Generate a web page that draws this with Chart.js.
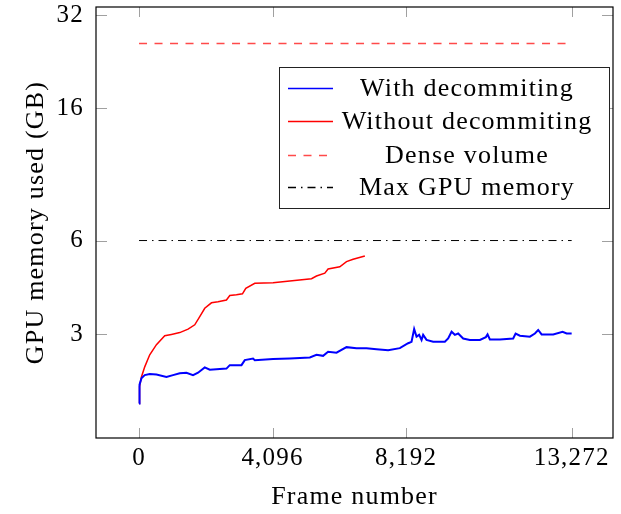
<!DOCTYPE html>
<html>
<head>
<meta charset="utf-8">
<script src="https://cdn.jsdelivr.net/npm/chart.js@4"></script>
<style>
  html, body { margin: 0; padding: 0; background: #fff; }
  canvas { display: block; }
</style>
</head>
<body>
<canvas id="myChart" width="621" height="514"></canvas>
<script>
// values (frame number, GB)
var blueFrames = [0, 10, 21, 74, 175, 328, 534, 841, 1043, 1249, 1455, 1657, 1811, 2016, 2170, 2375, 2682, 2784, 3143, 3244, 3499, 3551, 4112, 4625, 5239, 5444, 5647, 5800, 6058, 6365, 6672, 6979, 7286, 7642, 8001, 8256, 8360, 8440, 8513, 8593, 8667, 8716, 8820, 9023, 9382, 9483, 9588, 9689, 9790, 9944, 10149, 10456, 10640, 10692, 10763, 11070, 11478, 11552, 11684, 11991, 12144, 12245, 12350, 12706, 12994, 13117, 13272];
var blueGB = [1.79, 2.0, 2.06, 2.16, 2.21, 2.23, 2.22, 2.18, 2.21, 2.24, 2.25, 2.21, 2.25, 2.34, 2.30, 2.31, 2.32, 2.38, 2.38, 2.47, 2.50, 2.47, 2.49, 2.50, 2.52, 2.57, 2.55, 2.63, 2.61, 2.72, 2.70, 2.70, 2.68, 2.66, 2.70, 2.80, 2.83, 3.11, 2.94, 2.98, 2.87, 2.98, 2.87, 2.83, 2.83, 2.90, 3.05, 2.98, 3.01, 2.90, 2.87, 2.87, 2.93, 2.99, 2.88, 2.88, 2.90, 3.01, 2.96, 2.94, 3.01, 3.09, 2.99, 2.99, 3.05, 3.01, 3.01];

var redFrames = [0, 10, 21, 74, 175, 328, 534, 789, 994, 1249, 1504, 1709, 1863, 2016, 2222, 2424, 2682, 2784, 2989, 3173, 3275, 3551, 4112, 4625, 5291, 5444, 5699, 5800, 6159, 6365, 6568, 6927];
var redGB = [1.79, 2.0, 2.03, 2.18, 2.35, 2.57, 2.77, 2.96, 2.99, 3.03, 3.11, 3.21, 3.41, 3.63, 3.78, 3.81, 3.86, 3.99, 4.01, 4.04, 4.21, 4.37, 4.39, 4.44, 4.52, 4.61, 4.71, 4.86, 4.94, 5.13, 5.22, 5.35];

var denseVolumeGB = 25.9;
var maxGpuGB = 6;
var lineFrames = [0, 13272];

var seriesNames = ['With decommiting', 'Without decommiting', 'Dense volume', 'Max GPU memory'];
var seriesColors = ['#0000ff', '#ff0000', '#ff4a4a', '#000000'];
var seriesDashes = [[], [], [8, 7.5], [8, 5, 1.5, 5]];
var xTicks = [0, 4096, 8192, 13272];
var yTicks = [3, 6, 16, 32];

var serif = '"Liberation Serif", "Times New Roman", serif';

function toPoints(xs, ys) {
    return xs.map(function (x, i) { return {x: x, y: ys[i]}; });
}
function flatLine(v) {
    return lineFrames.map(function (x) { return {x: x, y: v}; });
}

// computer modern is wider than Times, spread the letters a bit
var spacing = {
    id: 'spacing',
    beforeDraw: function (chart) { chart.ctx.letterSpacing = '1.2px'; }
};

// frame box, inside ticks and the legend box, pgfplots style
var frameAndLegend = {
    id: 'frameAndLegend',
    afterDatasetsDraw: function (chart) {
        var ctx = chart.ctx;
        var a = chart.chartArea;
        var xs = chart.scales.x, ys = chart.scales.y;
        ctx.save();
        // ticks
        ctx.setLineDash([]);
        ctx.strokeStyle = '#a0a0a0';
        ctx.lineWidth = 1;
        ctx.beginPath();
        xTicks.forEach(function (t) {
            var px = Math.round(xs.getPixelForValue(t)) + 0.5;
            ctx.moveTo(px, a.bottom); ctx.lineTo(px, a.bottom - 10);
            ctx.moveTo(px, a.top); ctx.lineTo(px, a.top + 10);
        });
        yTicks.forEach(function (t) {
            var py = Math.round(ys.getPixelForValue(t)) + 0.5;
            ctx.moveTo(a.left, py); ctx.lineTo(a.left + 11, py);
            ctx.moveTo(a.right, py); ctx.lineTo(a.right - 11, py);
        });
        ctx.stroke();
        // frame
        ctx.strokeStyle = '#000';
        ctx.lineWidth = 1.2;
        ctx.strokeRect(a.left, a.top, a.right - a.left, a.bottom - a.top);

        // legend
        var bx = 279, by = 67, bw = 330, bh = 141;
        ctx.fillStyle = '#fff';
        ctx.fillRect(bx, by, bw, bh);
        ctx.strokeStyle = '#222';
        ctx.lineWidth = 1;
        ctx.strokeRect(bx + 0.5, by + 0.5, bw, bh);
        var rowY = [88, 121, 155, 187];
        ctx.font = '26px ' + serif;
        ctx.textAlign = 'center';
        ctx.textBaseline = 'middle';
        for (var i = 0; i < seriesNames.length; i++) {
            var y = rowY[i] + 0.5;
            ctx.strokeStyle = seriesColors[i];
            ctx.lineWidth = 1.3;
            ctx.setLineDash(seriesDashes[i]);
            ctx.beginPath();
            ctx.moveTo(288, y); ctx.lineTo(333, y);
            ctx.stroke();
            ctx.setLineDash([]);
            ctx.fillStyle = '#000';
            ctx.fillText(seriesNames[i], 467, rowY[i] + 1);
        }
        ctx.restore();
    }
};

new Chart(document.getElementById('myChart'), {
    type: 'line',
    data: {
        datasets: [
            {
                label: seriesNames[0],
                data: toPoints(blueFrames, blueGB),
                borderColor: seriesColors[0],
                borderWidth: 2
            },
            {
                label: seriesNames[1],
                data: toPoints(redFrames, redGB),
                borderColor: seriesColors[1],
                borderWidth: 1.5
            },
            {
                label: seriesNames[2],
                data: flatLine(denseVolumeGB),
                borderColor: seriesColors[2],
                borderWidth: 1.4,
                borderDash: seriesDashes[2]
            },
            {
                label: seriesNames[3],
                data: flatLine(maxGpuGB),
                borderColor: seriesColors[3],
                borderWidth: 1,
                borderDash: seriesDashes[3]
            }
        ]
    },
    options: {
        responsive: false,
        animation: false,
        devicePixelRatio: 1,
        layout: {padding: {top: 7, right: 8, left: 0, bottom: 0}},
        elements: {point: {radius: 0}, line: {tension: 0}},
        plugins: {
            legend: {display: false},
            tooltip: {enabled: false}
        },
        scales: {
            x: {
                type: 'linear',
                min: -1320,
                max: 14540,
                grid: {display: false, drawTicks: false},
                border: {display: false},
                afterBuildTicks: function (s) {
                    s.ticks = xTicks.map(function (v) { return {value: v}; });
                },
                afterFit: function (s) {
                    s.height = 76;
                    s.paddingLeft = 0; s.paddingRight = 0;
                },
                ticks: {
                    padding: 5,
                    color: '#000',
                    font: {family: serif, size: 25},
                    maxRotation: 0,
                    callback: function (v) { return v.toLocaleString('en-US'); }
                },
                title: {
                    display: true,
                    text: 'Frame number',
                    color: '#000',
                    font: {family: serif, size: 26},
                    padding: {top: 0, bottom: 1}
                }
            },
            y: {
                type: 'logarithmic',
                min: 1.386,
                max: 33.95,
                grid: {display: false, drawTicks: false},
                border: {display: false},
                afterBuildTicks: function (s) {
                    s.ticks = yTicks.map(function (v) { return {value: v}; });
                },
                afterFit: function (s) {
                    s.width = 96;
                    s.paddingTop = 0; s.paddingBottom = 0;
                },
                ticks: {
                    padding: 12,
                    color: '#000',
                    font: {family: serif, size: 25},
                    callback: function (v) { return String(v); }
                },
                title: {
                    display: true,
                    text: 'GPU memory used (GB)',
                    color: '#000',
                    font: {family: serif, size: 26},
                    padding: {top: 21, bottom: 0}
                }
            }
        }
    },
    plugins: [spacing, frameAndLegend]
});
</script>
</body>
</html>
